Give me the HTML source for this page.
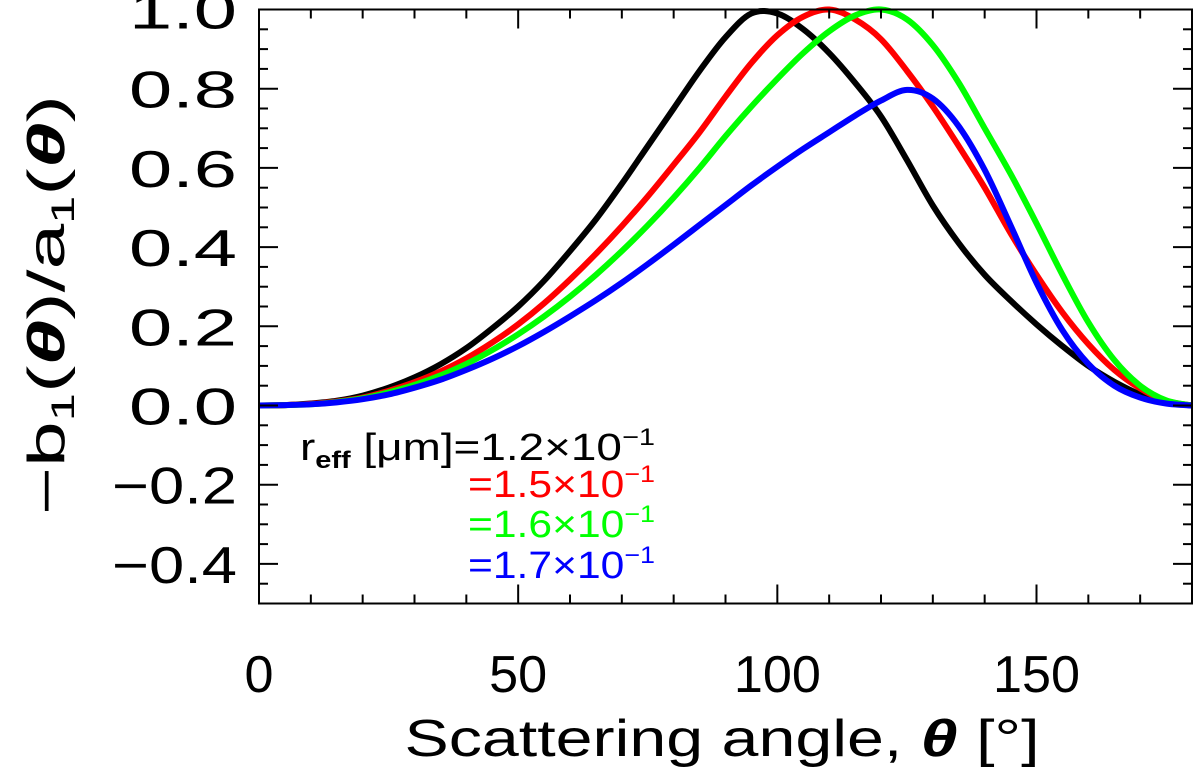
<!DOCTYPE html>
<html><head><meta charset="utf-8"><style>
html,body{margin:0;padding:0;background:#fff;}
svg{display:block;font-family:"Liberation Sans",sans-serif;}
</style></head><body>
<svg id="chart" width="1200" height="774" viewBox="0 0 1200 774" xmlns="http://www.w3.org/2000/svg">
<defs><clipPath id="pc"><rect x="259" y="5" width="933" height="599"/></clipPath></defs>
<g id="series" clip-path="url(#pc)"></g>
<rect x="259" y="9.5" width="933" height="594" fill="none" stroke="#000" stroke-width="2"/>
<g id="ticks"></g>
<text transform="translate(64,305) rotate(-90)" text-anchor="middle" font-size="52" textLength="420" lengthAdjust="spacingAndGlyphs">−b<tspan font-size="32" dy="10">1</tspan><tspan dy="-10">(</tspan><tspan font-weight="bold" font-style="italic">θ</tspan>)/a<tspan font-size="32" dy="10">1</tspan><tspan dy="-10">(</tspan><tspan font-weight="bold" font-style="italic">θ</tspan>)</text>
<text x="722" y="756" text-anchor="middle" font-size="52" textLength="635" lengthAdjust="spacingAndGlyphs">Scattering angle, <tspan font-weight="bold" font-style="italic">θ</tspan> [°]</text>
<g font-size="38">
<text x="300" y="460" fill="#000" textLength="355" lengthAdjust="spacingAndGlyphs">r<tspan font-size="24" font-weight="bold" dy="8">eff</tspan><tspan dy="-8"> [μm]=1.2×10</tspan><tspan font-size="24" dy="-15">−1</tspan></text>
<text x="468" y="497" fill="#ff0000" textLength="187" lengthAdjust="spacingAndGlyphs">=1.5×10<tspan font-size="24" dy="-15">−1</tspan></text>
<text x="468" y="537" fill="#00ff00" textLength="187" lengthAdjust="spacingAndGlyphs">=1.6×10<tspan font-size="24" dy="-15">−1</tspan></text>
<text x="468" y="578" fill="#0000ff" textLength="187" lengthAdjust="spacingAndGlyphs">=1.7×10<tspan font-size="24" dy="-15">−1</tspan></text>
</g>
</svg>
<script>
const thetas = [0,5,10,15,20,25,30,35,40,45,50,55,60,65,70,75,80,85,90,95,100,105,110,115,120,125,130,135,140,145,150,155,160,165,170,175,180];
const blackVals = [0,0.001,0.005,0.012,0.025,0.045,0.071,0.104,0.145,0.195,0.25,0.315,0.39,0.47,0.56,0.655,0.75,0.845,0.93,0.99,0.99,0.95,0.89,0.815,0.73,0.62,0.505,0.41,0.33,0.265,0.205,0.15,0.1,0.06,0.028,0.008,0];
const redVals = [0,0.001,0.004,0.01,0.02,0.037,0.059,0.086,0.119,0.159,0.205,0.258,0.318,0.383,0.453,0.528,0.608,0.69,0.78,0.865,0.935,0.982,1.0,0.975,0.925,0.845,0.755,0.655,0.55,0.435,0.33,0.235,0.155,0.09,0.043,0.012,0];
const greenVals = [0,0.001,0.003,0.009,0.018,0.033,0.052,0.076,0.105,0.14,0.18,0.225,0.275,0.33,0.39,0.455,0.525,0.6,0.68,0.755,0.825,0.89,0.945,0.985,1.0,0.975,0.91,0.815,0.7,0.585,0.46,0.33,0.21,0.115,0.05,0.013,0];
const blueVals = [0,0.001,0.003,0.008,0.016,0.028,0.045,0.065,0.09,0.118,0.15,0.186,0.225,0.266,0.31,0.357,0.406,0.456,0.506,0.556,0.603,0.648,0.69,0.732,0.77,0.797,0.775,0.705,0.595,0.455,0.31,0.19,0.105,0.05,0.02,0.005,0];
const xTickLabels = [0,50,100,150];
const yTickLabels = [-0.4,-0.2,0.0,0.2,0.4,0.6,0.8,1.0];

const NS="http://www.w3.org/2000/svg";
const X0=259,X1=1192,Y0=603.5,Y1=9.5,XMIN=0,XMAX=180,YMIN=-0.5,YMAX=1.0;
function xs(v){return X0+(v-XMIN)/(XMAX-XMIN)*(X1-X0);}
function ys(v){return Y0-(v-YMIN)/(YMAX-YMIN)*(Y0-Y1);}

function pathFor(xsArr,vals){
  const p=xsArr.map((t,i)=>[xs(t),ys(vals[i])]);
  let d="M"+p[0][0].toFixed(2)+","+p[0][1].toFixed(2);
  for(let i=0;i<p.length-1;i++){
    const p0=p[Math.max(0,i-1)],p1=p[i],p2=p[i+1],p3=p[Math.min(p.length-1,i+2)];
    const c1=[p1[0]+(p2[0]-p0[0])/6,p1[1]+(p2[1]-p0[1])/6];
    const c2=[p2[0]-(p3[0]-p1[0])/6,p2[1]-(p3[1]-p1[1])/6];
    d+=" C"+c1[0].toFixed(2)+","+c1[1].toFixed(2)+" "+c2[0].toFixed(2)+","+c2[1].toFixed(2)+" "+p2[0].toFixed(2)+","+p2[1].toFixed(2);
  }
  return d;
}
const sg=document.getElementById("series");
function addLine(vals,color,name){
  const el=document.createElementNS(NS,"path");
  el.setAttribute("d",pathFor(thetas,vals));
  el.setAttribute("fill","none");
  el.setAttribute("stroke",color);
  el.setAttribute("stroke-width","6");
  el.setAttribute("stroke-linejoin","round");
  
  
  sg.appendChild(el);
}
addLine(blackVals,"#000","line-reff-1.2");
addLine(redVals,"#ff0000","line-reff-1.5");
addLine(greenVals,"#00ff00","line-reff-1.6");
addLine(blueVals,"#0000ff","line-reff-1.7");

const tg=document.getElementById("ticks");
function ln(x1,y1,x2,y2){
  const l=document.createElementNS(NS,"line");
  l.setAttribute("x1",x1);l.setAttribute("y1",y1);l.setAttribute("x2",x2);l.setAttribute("y2",y2);
  l.setAttribute("stroke","#000");l.setAttribute("stroke-width","2");
  
  
  tg.appendChild(l);
}
for(let v=0;v<=180;v+=10){
  const x=xs(v),major=(v%50===0);
  const len=major?19:9;
  ln(x,Y0,x,Y0-len);ln(x,Y1,x,Y1+len);
}
for(let k=-10;k<=20;k++){
  const v=k*0.05,y=ys(v),major=(k%4===0);
  const len=major?19:9;
  ln(X0,y,X0+len,y);ln(X1,y,X1-len,y);
}
xTickLabels.forEach(v=>{
  const t=document.createElementNS(NS,"text");
  const s=String(v);
  t.setAttribute("x",xs(v));t.setAttribute("y",692);
  t.setAttribute("text-anchor","middle");t.setAttribute("font-size","52");
  t.setAttribute("textLength",String(s.length*29));
  t.setAttribute("lengthAdjust","spacingAndGlyphs");
  t.textContent=s;
  
  
  tg.appendChild(t);
});
yTickLabels.forEach(v=>{
  const t=document.createElementNS(NS,"text");
  const s=(v<0?"−":"")+Math.abs(v).toFixed(1);
  t.setAttribute("x",237);t.setAttribute("y",ys(v)+19);
  t.setAttribute("text-anchor","end");t.setAttribute("font-size","52");
  t.setAttribute("textLength",v<0?"125":"108");
  t.setAttribute("lengthAdjust","spacingAndGlyphs");
  t.textContent=s;
  
  
  tg.appendChild(t);
});
</script>
</body></html>
